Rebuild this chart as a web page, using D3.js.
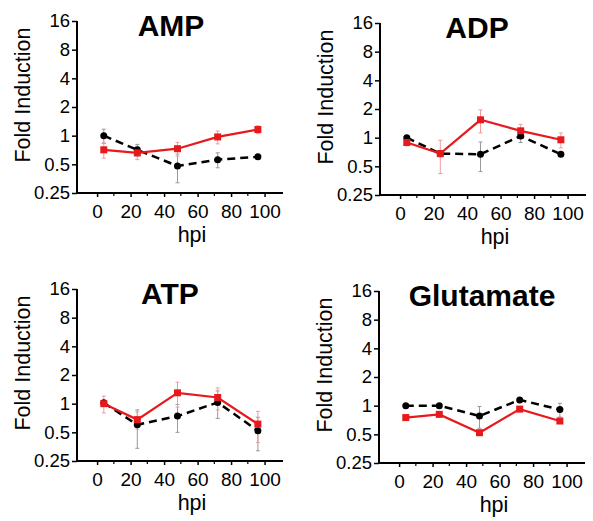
<!DOCTYPE html>
<html>
<head>
<meta charset="utf-8">
<script src="https://cdn.jsdelivr.net/npm/d3@7"></script>
<style>
body { margin: 0; background: #fff; }
text { font-family: "Liberation Sans", Arial, Helvetica, sans-serif; }
</style>
</head>
<body>
<script>
// hpi time points and tick labels
var hpi = [4, 24, 48, 72, 96];
var xTicks = [0, 20, 40, 60, 80, 100];
var xMinor = [10, 30, 50, 70, 90];
var yTicks = [0.25, 0.5, 1, 2, 4, 8, 16];
var titles = ["AMP", "ADP", "ATP", "Glutamate"];

// fold induction, black dashed series and red series
var ampBlack = [1.0, 0.71, 0.48, 0.56, 0.60];
var ampRed   = [0.71, 0.66, 0.73, 0.97, 1.16];
var adpBlack = [1.0, 0.68, 0.67, 1.04, 0.67];
var adpRed   = [0.89, 0.68, 1.54, 1.18, 0.95];
var atpBlack = [1.02, 0.60, 0.74, 1.03, 0.52];
var atpRed   = [1.0, 0.68, 1.3, 1.16, 0.61];
var gluBlack = [1.0, 1.0, 0.78, 1.15, 0.91];
var gluRed   = [0.75, 0.81, 0.52, 0.92, 0.69];

// error (SD)
var ampBlackErr = [0.17, 0.10, 0.16, 0.10, 0.02];
var ampRedErr   = [0.13, 0.10, 0.12, 0.15, 0.11];
var adpBlackErr = [0.03, 0.05, 0.23, 0.15, 0.03];
var adpRedErr   = [0.07, 0.26, 0.42, 0.20, 0.17];
var atpBlackErr = [0.05, 0.26, 0.24, 0.33, 0.20];
var atpRedErr   = [0.20, 0.14, 0.38, 0.30, 0.22];
var gluBlackErr = [0.03, 0.03, 0.20, 0.05, 0.15];
var gluRedErr   = [0.02, 0.03, 0.03, 0.03, 0.03];

var blacks = [ampBlack, adpBlack, atpBlack, gluBlack];
var reds = [ampRed, adpRed, atpRed, gluRed];
var blackErrs = [ampBlackErr, adpBlackErr, atpBlackErr, gluBlackErr];
var redErrs = [ampRedErr, adpRedErr, atpRedErr, gluRedErr];

// panel positions
var origins = [[77, 21], [380, 23], [77, 289], [379, 291]];
var titleX = [94, 97, 93, 103];
var pw = 206, ph = 172;

var svg = d3.select("body").append("svg")
	.attr("width", 593)
	.attr("height", 521);

titles.forEach(function(title, p) {
	var g = svg.append("g")
		.attr("transform", "translate(" + origins[p][0] + "," + origins[p][1] + ")");

	var x = d3.scaleLinear().domain([-12, 111]).range([0, pw]);
	var y = d3.scaleLog().base(2).domain([0.25, 16]).range([ph, 0]);

	// y axis
	var yAxis = g.append("g")
		.call(d3.axisLeft(y).tickValues(yTicks).tickFormat(d3.format("")).tickSize(5).tickPadding(2));
	yAxis.select(".domain").attr("stroke-width", 2).attr("d", "M0,0V" + ph);
	yAxis.selectAll(".tick line").attr("stroke-width", 1.5);
	yAxis.selectAll(".tick text").attr("font-size", 18.5).attr("fill", "#000")
		.style("font-family", "'Liberation Sans', Arial, sans-serif");

	// x axis
	var xAxis = g.append("g")
		.attr("transform", "translate(0," + ph + ")")
		.call(d3.axisBottom(x).tickValues(xTicks).tickSize(4).tickPadding(8));
	xAxis.select(".domain").attr("stroke-width", 2).attr("d", "M0,0H" + pw);
	xAxis.selectAll(".tick line").attr("stroke-width", 1.5);
	xAxis.selectAll(".tick text").attr("font-size", 19).attr("fill", "#000")
		.style("font-family", "'Liberation Sans', Arial, sans-serif");
	g.append("g")
		.attr("transform", "translate(0," + ph + ")")
		.selectAll("line")
		.data(xMinor)
		.enter()
		.append("line")
		.attr("x1", function(d) { return x(d); })
		.attr("x2", function(d) { return x(d); })
		.attr("y1", 0)
		.attr("y2", 3)
		.attr("stroke", "#000")
		.attr("stroke-width", 1.2);

	// titles
	g.append("text")
		.attr("x", titleX[p])
		.attr("y", 15)
		.attr("text-anchor", "middle")
		.attr("font-size", 30)
		.attr("font-weight", "bold")
		.text(title);

	g.append("text")
		.attr("transform", "translate(-47," + (ph / 2 - 12) + ") rotate(-90)")
		.attr("text-anchor", "middle")
		.attr("font-size", 21.5)
		.text("Fold Induction");

	g.append("text")
		.attr("x", 115)
		.attr("y", ph + 49)
		.attr("text-anchor", "middle")
		.attr("font-size", 21.5)
		.text("hpi");

	var line = d3.line()
		.x(function(d, i) { return x(hpi[i]); })
		.y(function(d) { return y(d); });

	function errBars(vals, errs, color) {
		var eg = g.append("g");
		vals.forEach(function(v, i) {
			var top = y(v + errs[i]);
			var bot = y(Math.max(v - errs[i], 0.26));
			var cx = x(hpi[i]);
			eg.append("line").attr("x1", cx).attr("x2", cx).attr("y1", top).attr("y2", bot)
				.attr("stroke", color).attr("stroke-width", 1);
			eg.append("line").attr("x1", cx - 2).attr("x2", cx + 2).attr("y1", top).attr("y2", top)
				.attr("stroke", color).attr("stroke-width", 1);
			eg.append("line").attr("x1", cx - 2).attr("x2", cx + 2).attr("y1", bot).attr("y2", bot)
				.attr("stroke", color).attr("stroke-width", 1);
		});
	}

	errBars(blacks[p], blackErrs[p], "#999");
	errBars(reds[p], redErrs[p], "#f29a9a");

	// black dashed series
	g.append("path")
		.datum(blacks[p])
		.attr("d", line)
		.attr("fill", "none")
		.attr("stroke", "#000")
		.attr("stroke-width", 2.5)
		.attr("stroke-dasharray", "8,5");
	g.selectAll(".bdot")
		.data(blacks[p])
		.enter()
		.append("circle")
		.attr("cx", function(d, i) { return x(hpi[i]); })
		.attr("cy", function(d) { return y(d); })
		.attr("r", 3.5)
		.attr("fill", "#000");

	// red series
	g.append("path")
		.datum(reds[p])
		.attr("d", line)
		.attr("fill", "none")
		.attr("stroke", "#e8191c")
		.attr("stroke-width", 2.2);
	g.selectAll(".rdot")
		.data(reds[p])
		.enter()
		.append("rect")
		.attr("x", function(d, i) { return x(hpi[i]) - 3.5; })
		.attr("y", function(d) { return y(d) - 3.5; })
		.attr("width", 7)
		.attr("height", 7)
		.attr("fill", "#e8191c");
});
</script>
</body>
</html>
